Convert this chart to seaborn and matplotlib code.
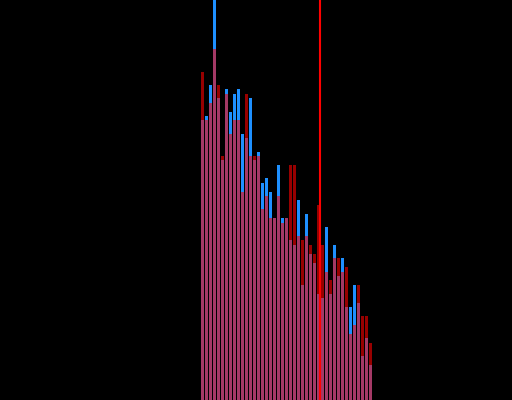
import numpy as np
import pandas as pd
import seaborn as sns
import matplotlib.pyplot as plt

# bin positions and counts for the two groups
bins = list(range(43))
blue_counts = [280, 284, 315, 410, 302, 240, 311, 288, 306, 311,
               266, 262, 302, 240, 248, 217, 222, 208, 182, 235,
               182, 182, 160, 155, 200, 115, 186, 146, 137, 106,
               102, 173, 106, 155, 124, 142, 93, 93, 115, 97,
               44, 62, 35]
red_counts = [328, 280, 297, 351, 315, 244, 306, 266, 280, 280,
              208, 306, 244, 244, 244, 191, 204, 182, 182, 204,
              177, 182, 235, 235, 164, 160, 164, 155, 146, 195,
              155, 128, 120, 142, 142, 128, 133, 66, 75, 115,
              84, 84, 57]
mark = 29.45

df = pd.DataFrame({"bin": bins, "blue": blue_counts, "red": red_counts})

fig = plt.figure(figsize=(5.12, 4), dpi=100, facecolor="black")
ax = fig.add_axes([0, 0, 1, 1])
ax.set_facecolor("black")

sns.histplot(data=df, x="bin", weights="blue", discrete=True, shrink=0.75,
             color="#1e90ff", alpha=1, linewidth=0, ax=ax)
sns.histplot(data=df, x="bin", weights="red", discrete=True, shrink=0.75,
             color="#ff0000", alpha=0.6, linewidth=0, ax=ax)
ax.axvline(mark, color="#ff0000", linewidth=1.5)

ax.set_xlim(-50.625, 77.375)
ax.set_ylim(0, 400)
ax.axis("off")

plt.savefig("out.png", dpi=100, facecolor="black")
